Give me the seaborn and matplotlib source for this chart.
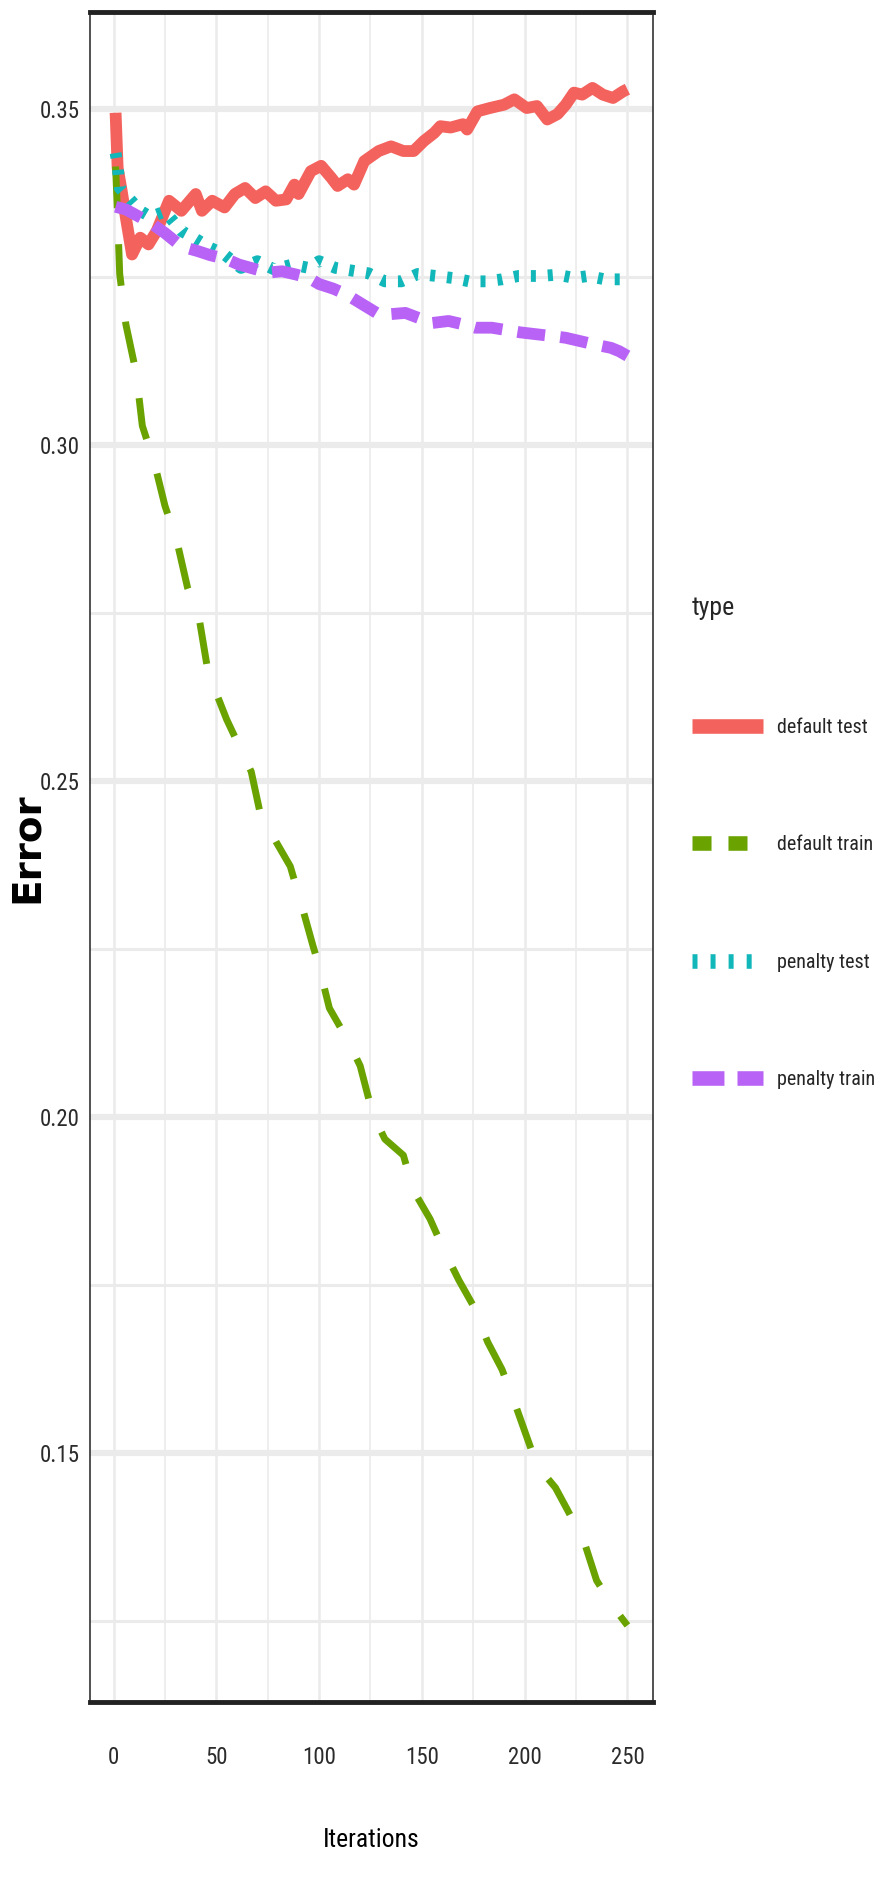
import pandas as pd
import matplotlib
matplotlib.use("Agg")
import matplotlib.pyplot as plt
import seaborn as sns
from matplotlib import font_manager
from matplotlib.lines import Line2D
from matplotlib.ticker import MultipleLocator

OUT_FILE = "out.png"

TYPES  = ["default test", "default train", "penalty test", "penalty train"]
COLORS = ["#F4625D", "#6AA300", "#12B7BA", "#B862F6"]

# values, iteration -> error
IT_DEFAULT_TEST = [1, 2, 4, 6, 9, 13, 17, 21, 25, 27, 33, 40, 43, 48, 54, 59, 64, 69, 74, 79,
                   84, 88, 90, 96, 101, 106, 109, 114, 117, 122, 129, 135, 141, 146, 151, 156,
                   159, 164, 170, 172, 177, 183, 190, 195, 201, 206, 211, 216, 220, 224, 228,
                   233, 238, 243, 248, 250]
ERR_DEFAULT_TEST = [0.3495, 0.3413, 0.3378, 0.3339, 0.3284, 0.3309, 0.3299, 0.3319, 0.3349, 0.3364,
                    0.3349, 0.3374, 0.3349, 0.3364, 0.3354, 0.3374, 0.3383, 0.3368, 0.3378, 0.3364,
                    0.3366, 0.3388, 0.3374, 0.3408, 0.3416, 0.3398, 0.3386, 0.3396, 0.3388, 0.3423,
                    0.3438, 0.3445, 0.3438, 0.3438, 0.3453, 0.3465, 0.3475, 0.3473, 0.3478, 0.3470,
                    0.3497, 0.3502, 0.3507, 0.3515, 0.3502, 0.3505, 0.3485, 0.3493, 0.3507, 0.3525,
                    0.3522, 0.3532, 0.3522, 0.3517, 0.3527, 0.3530]

IT_DEFAULT_TRAIN = [1, 2, 3, 6, 11, 14, 20, 25, 31, 36, 42, 46, 55, 67, 71, 79, 86, 92, 97, 100,
                    105, 114, 120, 126, 132, 141, 146, 154, 161, 168, 175, 182, 189, 196, 206,
                    215, 221, 229, 235, 243, 250]
ERR_DEFAULT_TRAIN = [0.3415, 0.3340, 0.3255, 0.3180, 0.3108, 0.3029, 0.2972, 0.2910, 0.2855, 0.2788,
                     0.2736, 0.2662, 0.2592, 0.2514, 0.2457, 0.2410, 0.2373, 0.2310, 0.2255, 0.2224,
                     0.2162, 0.2114, 0.2076, 0.2005, 0.1967, 0.1943, 0.1890, 0.1848, 0.1800, 0.1757,
                     0.1719, 0.1665, 0.1624, 0.1567, 0.1481, 0.1448, 0.1414, 0.1367, 0.1310, 0.1271,
                     0.1243]

IT_PENALTY_TEST = [1, 2, 3, 13, 18, 25, 33, 39, 47, 54, 62, 70, 78, 87, 95, 100, 108, 116, 124,
                   132, 140, 148, 157, 165, 173, 181, 189, 197, 208, 216, 224, 231, 239, 247, 250]
ERR_PENALTY_TEST = [0.3435, 0.3416, 0.3383, 0.3349, 0.3340, 0.3348, 0.3319, 0.3309, 0.3294, 0.3284,
                    0.3264, 0.3274, 0.3262, 0.3269, 0.3264, 0.3274, 0.3264, 0.3260, 0.3256, 0.3244,
                    0.3244, 0.3255, 0.3252, 0.3249, 0.3244, 0.3244, 0.3247, 0.3252, 0.3252, 0.3254,
                    0.3249, 0.3252, 0.3247, 0.3247, 0.3243]

IT_PENALTY_TRAIN = [1, 6, 12, 18, 25, 33, 41, 47, 55, 61, 68, 75, 82, 89, 95, 100, 107, 113, 121,
                    128, 134, 142, 148, 155, 163, 170, 176, 184, 198, 212, 220, 227, 234, 242,
                    246, 250]
ERR_PENALTY_TRAIN = [0.3355, 0.3351, 0.3341, 0.3331, 0.3316, 0.3296, 0.3289, 0.3283, 0.3277, 0.3269,
                     0.3263, 0.3257, 0.3259, 0.3254, 0.3249, 0.3240, 0.3233, 0.3225, 0.3210, 0.3197,
                     0.3195, 0.3197, 0.3190, 0.3182, 0.3185, 0.3180, 0.3175, 0.3175, 0.3168, 0.3163,
                     0.3160, 0.3155, 0.3150, 0.3145, 0.3140, 0.3133]

X_TICKS       = [0, 50, 100, 150, 200, 250]
Y_TICKS       = [0.15, 0.20, 0.25, 0.30, 0.35]
Y_TICK_LABELS = ["0.15", "0.20", "0.25", "0.30", "0.35"]

# dash patterns in points (lines.scale_dashes off)
PLOT_DASHES   = {"default test": "", "default train": (30, 26),
                 "penalty test": (3.6, 8.6), "penalty train": (20, 11)}
LEGEND_DASHES = [None, (13.7, 12.2), (3.6, 9.4), (23, 9.4)]


def pick_font():
    # the reference text is very condensed; prefer a condensed face,
    # otherwise shrink a regular one so the widths still fit
    names = {f.name for f in font_manager.fontManager.ttflist}
    if "Roboto Condensed" in names:
        return "Roboto Condensed", 1.0
    if "Liberation Sans Narrow" in names:
        return "Liberation Sans Narrow", 1.0
    return "Liberation Sans", 0.85


def build_frame():
    series = [
        (IT_DEFAULT_TEST, ERR_DEFAULT_TEST),
        (IT_DEFAULT_TRAIN, ERR_DEFAULT_TRAIN),
        (IT_PENALTY_TEST, ERR_PENALTY_TEST),
        (IT_PENALTY_TRAIN, ERR_PENALTY_TRAIN),
    ]
    parts = []
    for name, (it, err) in zip(TYPES, series):
        parts.append(pd.DataFrame({"iteration": it, "error": err, "type": name}))
    return pd.concat(parts, ignore_index=True)


def main():
    sns.set_style("white")
    family, k = pick_font()
    plt.rcParams["font.family"] = [family, "DejaVu Sans"]
    plt.rcParams["lines.scale_dashes"] = False

    tick_size   = 16.5 * k
    xlabel_size = 18.5 * k
    leg_size    = 14.5 * k
    title_size  = 18.6 * k

    df = build_frame()

    W, H = 889, 1879
    fig = plt.figure(figsize=(W / 100, H / 100), dpi=100)
    ax  = fig.add_axes([90 / W, 1 - 1702 / H, 563 / W, 1690 / H])

    sns.lineplot(data=df, x="iteration", y="error", hue="type", style="type",
                 hue_order=TYPES, style_order=TYPES,
                 palette=dict(zip(TYPES, COLORS)), dashes=PLOT_DASHES,
                 linewidth=8.5, errorbar=None, legend=False, ax=ax)
    for line in ax.lines[:len(TYPES)]:
        line.set_solid_capstyle("butt")
    ax.lines[1].set_linewidth(5)

    ax.set_xlim(-11.45, 262.45)
    ax.set_ylim(0.1129, 0.3645)
    ax.set_xticks(X_TICKS)
    ax.set_yticks(Y_TICKS, Y_TICK_LABELS)
    ax.xaxis.set_minor_locator(MultipleLocator(25))
    ax.yaxis.set_minor_locator(MultipleLocator(0.025))

    ax.set_axisbelow(True)
    ax.grid(which="major", axis="y", color="#EBEBEB", lw=4.4)
    ax.grid(which="minor", axis="y", color="#EBEBEB", lw=2.2)
    ax.grid(which="major", axis="x", color="#EBEBEB", lw=1.8)
    ax.grid(which="minor", axis="x", color="#EBEBEB", lw=1.2)

    ax.tick_params(which="minor", length=0)
    ax.tick_params(axis="x", which="major", length=14, width=1.4, pad=18,
                   labelsize=tick_size, color="#333333", labelcolor="#2b2b2b")
    ax.tick_params(axis="y", which="major", length=4, width=4.3, pad=3.5,
                   labelsize=tick_size, color="#333333", labelcolor="#2b2b2b")

    for side in ["top", "bottom"]:
        ax.spines[side].set_linewidth(3.5)
        ax.spines[side].set_color("#222222")
    for side in ["left", "right"]:
        ax.spines[side].set_linewidth(1.2)
        ax.spines[side].set_color("#333333")

    ax.set_xlabel("Iterations", fontsize=xlabel_size, color="black")
    ax.xaxis.set_label_coords(0.5, -0.0745)
    ax.set_ylabel("Error", fontsize=28, fontweight="bold",
                  family=["DejaVu Sans"], color="black")
    ax.yaxis.set_label_coords(-0.0775, 0.5053)

    handles = []
    for color, dash in zip(COLORS, LEGEND_DASHES):
        h = Line2D([], [], color=color, lw=10.5, solid_capstyle="butt")
        if dash is not None:
            h.set_dashes(dash)
        handles.append(h)

    fs_px    = leg_size * 100 / 72
    title_px = title_size * 100 / 72
    fig.legend(handles=handles, labels=TYPES, title="type", loc="upper left",
               bbox_to_anchor=(692 / W, 1 - (611 - 0.6 * title_px) / H), frameon=False,
               borderpad=0, borderaxespad=0,
               handlelength=71 / fs_px, handletextpad=14 / fs_px,
               labelspacing=(122 - 1.17 * fs_px) / fs_px,
               fontsize=leg_size, title_fontsize=title_size, alignment="left")

    fig.savefig(OUT_FILE, dpi=100)
    plt.close(fig)


if __name__ == "__main__":
    main()
